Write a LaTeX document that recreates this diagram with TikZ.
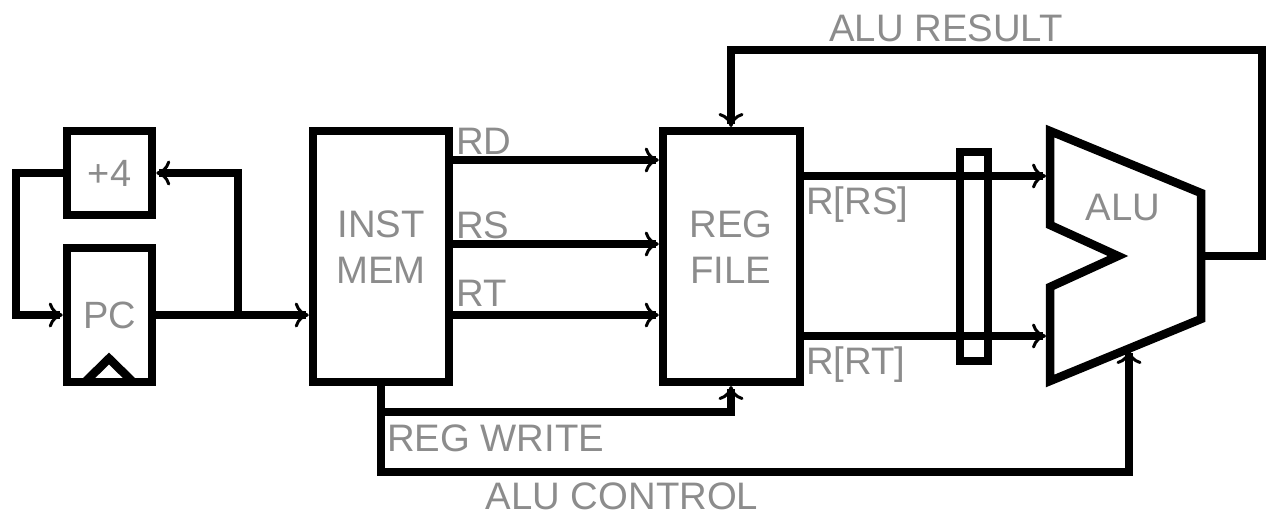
\documentclass[tikz,border=0pt]{standalone}
\usepackage{fontspec}
\setmainfont{Liberation Sans}
\usetikzlibrary{arrows.meta,calc}
\definecolor{labelgray}{HTML}{8C8C8C}
\tikzset{
  x=1pt,y=-1pt,
  wire/.style={line width=8.5pt,draw=black,line join=miter,-{Computer Modern Rightarrow[length=14pt,width=25pt,line width=3pt]}},
  plainwire/.style={line width=8.5pt,draw=black,line join=miter},
  blockbox/.style={draw=black,line width=8.5pt,fill=white,inner sep=0pt,text=labelgray,align=center,font=\fontsize{38}{46}\selectfont},
  lbl/.style={text=labelgray,inner sep=0pt,align=center,font=\fontsize{38.3}{46}\selectfont}
}
\begin{document}
\begin{tikzpicture}
\useasboundingbox (0,0) rectangle (1266,515);
\fill[white] (0,0) rectangle (1266,515);
% blocks
\node[blockbox,minimum width=85pt,minimum height=84pt] (plus) at (109.5,173) {+4};
\node[blockbox,minimum width=85pt,minimum height=134pt] (pc) at (109.5,315) {PC};
\node[blockbox,minimum width=136pt,minimum height=251pt] (mem) at (381,256.5) {};
\node[lbl] (memtext) at (381,247) {INST\\MEM};
\node[blockbox,minimum width=137pt,minimum height=251pt] (reg) at (731.5,256.5) {};
\node[lbl] (regtext) at (731,247) {REG\\FILE};
\node[blockbox,fill=none,minimum width=28pt,minimum height=209pt] (latch) at (974,256.5) {};
% clock triangle
\draw[plainwire] (85,382) -- (109,358.5) -- (133,382);
% ALU shape
\draw[plainwire,fill=white] (1050,131) -- (1201,193) -- (1201,319) -- (1050,381) -- (1050,287) -- (1118,256) -- (1050,225) -- cycle;
\node[lbl] (alutext) at (1123,208) {ALU};
% ports
\coordinate (aluA) at (1046,176);
\coordinate (aluB) at (1046,336);
\coordinate (aluC) at (1129,350);
\coordinate (aluOut) at (1205,256);
\coordinate (join) at (238,315);
\coordinate (regtop) at (731,127);
\coordinate (regbot) at (731,386);
\coordinate (cornerL) at (16,173);
\coordinate (tap) at (381,386);
% connectors
\draw[wire] (plus.west) -- (cornerL) |- (pc.west);
\draw[wire] (join) |- (plus.east);
\draw[wire] (pc.east) -- (pc.east -| mem.west);
\draw[wire] ([yshift=96.5pt]mem.east) -- ([yshift=96.5pt]reg.west);
\draw[wire] ([yshift=12.5pt]mem.east) -- ([yshift=12.5pt]reg.west);
\draw[wire] ([yshift=-58.5pt]mem.east) -- ([yshift=-58.5pt]reg.west);
\draw[wire] ([yshift=80.5pt]reg.east) -- (aluA);
\draw[wire] ([yshift=-79.5pt]reg.east) -- (aluB);
\draw[wire] (aluOut) -- (1262,256) -- (1262,50) -- (731,50) -- (regtop);
\draw[wire] (tap) |- (731,412) -- (regbot);
\draw[wire] (tap) |- (1129,472) -- (aluC);
% labels
\node[lbl,anchor=base west] (lrd) at (456,154) {RD};
\node[lbl,anchor=base west] (lrs) at (456,238) {RS};
\node[lbl,anchor=base west] (lrt) at (456,306) {RT};
\node[lbl,anchor=base west] (lrrs) at (806,214) {R[RS]};
\node[lbl,anchor=base west] (lrrt) at (806,374) {R[RT]};
\node[lbl,anchor=base] (lres) at (946,41) {ALU RESULT};
\node[lbl,anchor=base west] (lwr) at (387,451) {REG WRITE};
\node[lbl,anchor=base] (lctl) at (622,509) {ALU CONTROL};
\end{tikzpicture}
\end{document}
